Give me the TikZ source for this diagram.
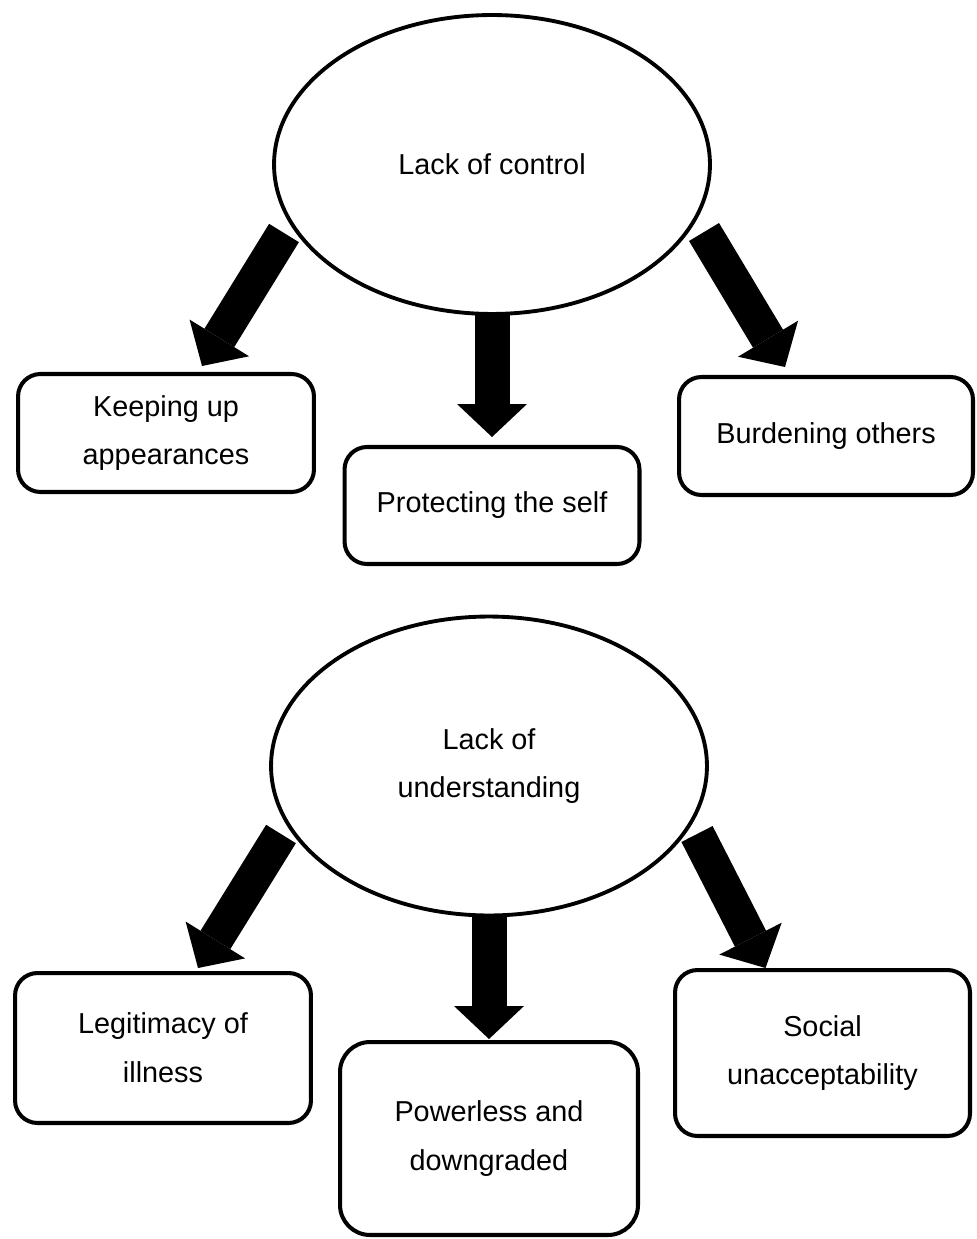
\documentclass[tikz,border=0pt]{standalone}
\usepackage{fontspec}
\setmainfont{Liberation Sans}
\usetikzlibrary{shapes.geometric,arrows.meta,calc}

\begin{document}
\begin{tikzpicture}[x=0.02cm,y=-0.02cm,
    every node/.style={font=\fontsize{16.4}{27.8}\selectfont},
    theme/.style={ellipse,draw,line width=2.2pt,outer sep=0pt,
      minimum width=8.72cm,minimum height=5.98cm,align=center},
    box/.style={draw,rounded corners=0.45cm,line width=2.3pt,outer sep=0pt,
      inner sep=0pt,align=center},
    blockarrow/.style={line width=0.7cm,
      -{Triangle[width=1.4cm,length=0.66cm,line width=0pt]}}]
  \useasboundingbox (0,0) rectangle (976,1239);
  % first theme
  \node[theme] (ctrl) at (492,164.5) {Lack of control};
  \node[box,minimum width=5.92cm,minimum height=2.36cm] (keep) at (166,433) {Keeping up\\appearances};
  \node[box,minimum width=5.9cm,minimum height=2.34cm] (prot) at (492,505.5) {Protecting the self};
  \node[box,minimum width=5.88cm,minimum height=2.36cm] (burd) at (826,436) {Burdening others};
  \draw[blockarrow] ($(ctrl)+(-208,68.5)$) -- ($(keep.north)+(36,-8)$);
  \draw[blockarrow] (ctrl.south) -- ($(prot.north)+(0,-10)$);
  \draw[blockarrow] ($(ctrl)+(212,67.5)$) -- ($(burd.north)+(-41,-10)$);
  % second theme
  \node[theme] (undst) at (489,766) {Lack of\\understanding};
  \node[box,minimum width=5.92cm,minimum height=3cm] (legit) at (163,1048) {Legitimacy of\\illness};
  \node[box,minimum width=5.96cm,minimum height=3.86cm,rounded corners=0.6cm] (power) at (489,1138.5) {Powerless and\\downgraded};
  \node[box,minimum width=5.9cm,minimum height=3.32cm] (social) at (822.5,1053) {Social\\unacceptability};
  \draw[blockarrow] ($(undst)+(-208,68)$) -- ($(legit.north)+(35,-5)$);
  \draw[blockarrow] (undst.south) -- ($(power.north)+(0,-3)$);
  \draw[blockarrow] ($(undst)+(208,68)$) -- ($(social.north)+(-57,-2)$);
\end{tikzpicture}
\end{document}
